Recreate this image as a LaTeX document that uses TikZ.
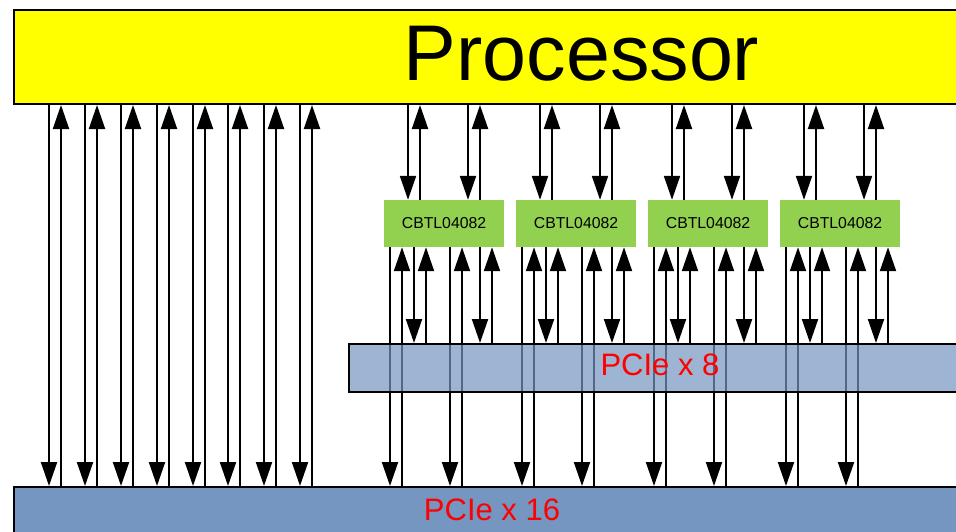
\documentclass[tikz,border=0pt]{standalone}
\usepackage{fontspec}
\setmainfont{Liberation Sans}
\usetikzlibrary{arrows.meta}
\definecolor{procyellow}{RGB}{255,255,0}
\definecolor{pciblue}{RGB}{116,150,192}
\definecolor{cbtlgreen}{RGB}{146,208,80}
\pgfdeclarelayer{front}
\pgfsetlayers{main,front}
\begin{document}
\begin{tikzpicture}[x=1pt,y=-1pt,
  conn/.style={line width=2pt,-{Triangle[length=24pt,width=16pt]}},
  procbox/.style={draw,line width=2pt,fill=procyellow,inner sep=0pt,
    minimum width=1139pt,minimum height=94pt,anchor=north west},
  busbox/.style={draw,line width=1.6pt,fill=pciblue,inner sep=0pt,anchor=north west},
  cbtl/.style={fill=cbtlgreen,inner sep=0pt,minimum width=120pt,minimum height=47pt,
    font=\fontsize{15.8}{18}\selectfont},
  buslabel/.style={anchor=base,text=red,font=\fontsize{31}{36}\selectfont}]
\clip (0,0) rectangle (956,531);
\fill[white] (0,0) rectangle (956,531);
% boxes
\node[procbox] (proc) at (13,9) {};
\node[anchor=base,font=\fontsize{79}{90}\selectfont] (procl) at (581.5,80.7) {Processor};
\node[busbox,line width=2pt,minimum width=960pt,minimum height=80pt] (x16) at (13,486) {};
\begin{pgfonlayer}{front}
\node[busbox,line width=1.6pt,fill opacity=0.7,minimum width=624pt,minimum height=48pt] (x8) at (348,343) {};
\node[buslabel] (x8l) at (660,375.7) {PCIe x 8};
\node[buslabel] (x16l) at (492,520) {PCIe x 16};
\end{pgfonlayer}
\foreach \i in {0,1,2,3}{
  \pgfmathsetmacro\cx{444+132*\i}
  \node[cbtl] (c\i) at (\cx,223.5) {CBTL04082};
}
% direct processor <-> PCIe x16 lanes
\foreach \k in {0,...,7}{
  \pgfmathsetmacro\xd{round(49+35.9*\k)}
  \pgfmathsetmacro\xu{round(61+35.9*\k)}
  \draw[conn] (\xd,0 |- proc.south) -- (\xd,0 |- x16.north);
  \draw[conn] (\xu,0 |- x16.north) -- (\xu,0 |- proc.south);
}
% switched lanes
\foreach \i in {0,1,2,3}{
  \pgfmathsetmacro\xo{384+132*\i}
  \pgfmathsetmacro\pa{\xo+24}
  \pgfmathsetmacro\pb{\xo+36}
  \pgfmathsetmacro\pc{\xo+84}
  \pgfmathsetmacro\pd{\xo+96}
  \draw[conn] (\pa,0 |- proc.south) -- (\pa,0 |- c\i.north);
  \draw[conn] (\pb,0 |- c\i.north) -- (\pb,0 |- proc.south);
  \draw[conn] (\pc,0 |- proc.south) -- (\pc,0 |- c\i.north);
  \draw[conn] (\pd,0 |- c\i.north) -- (\pd,0 |- proc.south);
  \pgfmathsetmacro\qa{\xo+6}
  \pgfmathsetmacro\qb{\xo+18}
  \pgfmathsetmacro\qc{\xo+30}
  \pgfmathsetmacro\qd{\xo+42}
  \pgfmathsetmacro\qe{\xo+66}
  \pgfmathsetmacro\qf{\xo+78}
  \pgfmathsetmacro\qg{\xo+96}
  \pgfmathsetmacro\qh{\xo+108}
  \draw[conn] (\qa,0 |- c\i.south) -- (\qa,0 |- x16.north);
  \draw[conn] (\qb,0 |- x16.north) -- (\qb,0 |- c\i.south);
  \draw[conn] (\qc,0 |- c\i.south) -- (\qc,0 |- x8.north);
  \draw[conn] (\qd,0 |- x8.north) -- (\qd,0 |- c\i.south);
  \draw[conn] (\qe,0 |- c\i.south) -- (\qe,0 |- x16.north);
  \draw[conn] (\qf,0 |- x16.north) -- (\qf,0 |- c\i.south);
  \draw[conn] (\qg,0 |- c\i.south) -- (\qg,0 |- x8.north);
  \draw[conn] (\qh,0 |- x8.north) -- (\qh,0 |- c\i.south);
}
\end{tikzpicture}
\end{document}
